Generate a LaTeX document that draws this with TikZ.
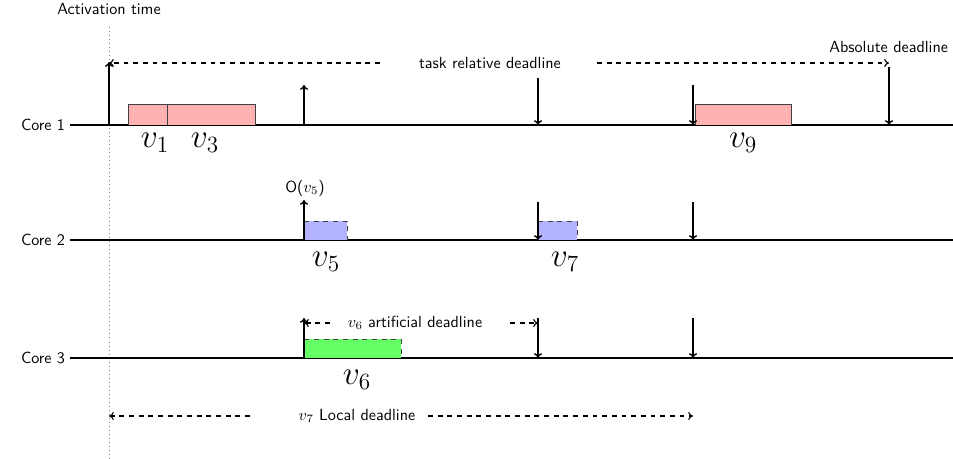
\documentclass[tikz,border=0pt]{standalone}
\usetikzlibrary{arrows.meta}
\begin{document}
\begin{tikzpicture}[x=0.62pt,y=-0.62pt,
  font=\sffamily,
  coreline/.style={line width=1pt},
  evt/.style={line width=0.9pt,-{To[length=3pt,width=5pt]}},
  span/.style={dashed,line width=0.7pt,-{To[length=3pt,width=5pt]}},
  job/.style={draw=black!75,line width=0.5pt,minimum height=0pt,inner sep=0pt},
  optjob/.style={draw=black!75,dashed,line width=0.5pt},
  jlabel/.style={font=\huge},
  lbl/.style={inner sep=1pt}]
\useasboundingbox (0,0) rectangle (953,459);

% activation time marker
\node[lbl] (act) at (109,9) {Activation time};
\coordinate (actTop) at (109,27);
\coordinate (actBot) at (109,459);
\draw[gray,dotted,line width=0.5pt] (actTop) -- (actBot);

% core time lines
\foreach \n/\y in {1/125,2/240,3/358}{
  \node[lbl,anchor=east] (core\n) at (67,\y) {Core \n};
  \coordinate (c\n s) at (70,\y);
  \coordinate (c\n e) at (953,\y);
  \draw[coreline] (c\n s) -- (c\n e);
}

% ---------- Core 1 ----------
\fill[red!30] (128,104) rectangle (255,125);
\draw[job] (128,125) -- (128,104) -- (255,104) -- (255,125);
\draw[job] (167,104) -- (167,125);
\fill[red!30] (695,104) rectangle (791,125);
\draw[job] (695,125) -- (695,104) -- (791,104) -- (791,125);
\node[jlabel] (v1) at (155,143) {$v_1$};
\node[jlabel] (v3) at (205,143) {$v_3$};
\node[jlabel] (v9) at (743,143) {$v_9$};

\coordinate (a1b) at (109,125); \coordinate (a1t) at (109,62);
\coordinate (a2b) at (304,125); \coordinate (a2t) at (304,85);
\coordinate (d1t) at (538,78);  \coordinate (d1b) at (538,125);
\coordinate (d2t) at (693,85);  \coordinate (d2b) at (693,125);
\coordinate (d3t) at (889,67);  \coordinate (d3b) at (889,125);
\draw[evt] (a1b) -- (a1t);
\draw[evt] (a2b) -- (a2t);
\draw[evt] (d1t) -- (d1b);
\draw[evt] (d2t) -- (d2b);
\draw[evt] (d3t) -- (d3b);

\node[lbl] (trd) at (490,63) {task relative deadline};
\coordinate (trdL) at (109,63);
\coordinate (trdR) at (889,63);
\draw[span] (380,63) coordinate (trdLs) -- (trdL);
\draw[span] (597,63) coordinate (trdRs) -- (trdR);
\node[lbl,anchor=east] (abs) at (950,47) {Absolute deadline};

% ---------- Core 2 ----------
\fill[blue!30] (304,221) rectangle (347,240);
\draw[optjob] (304,221) -- (347,221) -- (347,240);
\fill[blue!30] (538,221) rectangle (577,240);
\draw[optjob] (538,221) -- (577,221) -- (577,240);
\node[jlabel] (v5) at (326,262) {$v_5$};
\node[jlabel] (v7) at (565,262) {$v_7$};

\coordinate (o5b) at (304,240); \coordinate (o5t) at (304,200);
\coordinate (e1t) at (538,202); \coordinate (e1b) at (538,240);
\coordinate (e2t) at (693,202); \coordinate (e2b) at (693,240);
\draw[evt] (o5b) -- (o5t);
\draw[evt] (e1t) -- (e1b);
\draw[evt] (e2t) -- (e2b);
\node[lbl] (o5) at (305,188) {O($v_5$)};

% ---------- Core 3 ----------
\fill[green!60] (304,339) rectangle (401,358);
\draw[optjob] (304,358) -- (304,339) -- (401,339) -- (401,358);
\node[jlabel] (v6) at (357,380) {$v_6$};

\coordinate (g1b) at (304,358); \coordinate (g1t) at (304,318);
\coordinate (g2t) at (538,318); \coordinate (g2b) at (538,358);
\coordinate (g3t) at (693,318); \coordinate (g3b) at (693,358);
\draw[evt] (g1b) -- (g1t);
\draw[evt] (g2t) -- (g2b);
\draw[evt] (g3t) -- (g3b);

\node[lbl] (art) at (415,323) {$v_6$ artificial deadline};
\coordinate (artL) at (304,323);
\coordinate (artR) at (538,323);
\draw[span] (330,323) coordinate (artLs) -- (artL);
\draw[span] (510,323) coordinate (artRs) -- (artR);

% ---------- local deadline of v7 ----------
\node[lbl] (loc) at (357,416) {$v_7$ Local deadline};
\coordinate (locL) at (109,416);
\coordinate (locR) at (693,416);
\draw[span] (250,416) coordinate (locLs) -- (locL);
\draw[span] (428,416) coordinate (locRs) -- (locR);
\end{tikzpicture}
\end{document}
